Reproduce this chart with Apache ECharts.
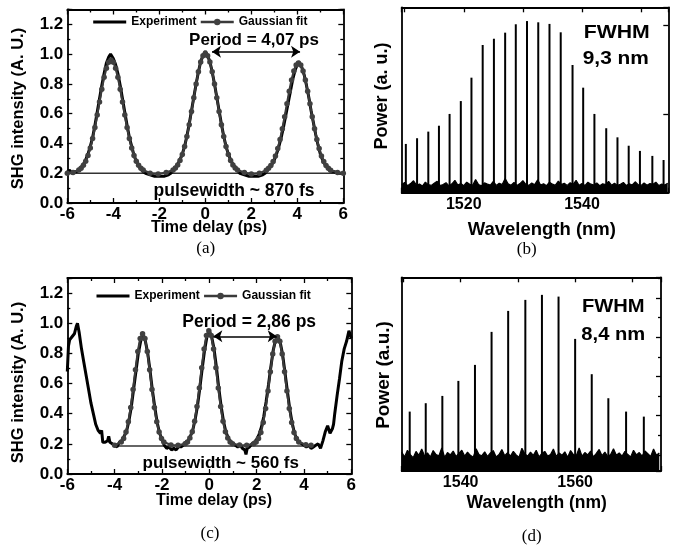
<!DOCTYPE html>
<html><head><meta charset="utf-8">
<script src="https://cdn.jsdelivr.net/npm/echarts/dist/echarts.min.js"></script>
<style>html,body{margin:0;padding:0;background:#fff}#c{width:674px;height:547px}</style>
</head><body><div id="c"></div>
<script>
// ---------- Panel (a): autocorrelation, period 4.07 ps ----------
const expA = [[-6.0,0.21],[-5.9,0.22],[-5.8,0.20],[-5.7,0.21],[-5.6,0.21],[-5.5,0.22],[-5.4,0.24],[-5.3,0.26],[-5.2,0.29],[-5.1,0.33],[-5.0,0.38],[-4.9,0.44],[-4.8,0.52],[-4.7,0.61],[-4.6,0.70],[-4.5,0.79],[-4.4,0.87],[-4.3,0.94],[-4.2,0.98],[-4.12,1.00],[-4.0,0.97],[-3.9,0.93],[-3.8,0.87],[-3.7,0.79],[-3.6,0.70],[-3.5,0.61],[-3.4,0.52],[-3.3,0.44],[-3.2,0.38],[-3.1,0.32],[-3.0,0.28],[-2.9,0.25],[-2.8,0.23],[-2.7,0.21],[-2.6,0.20],[-2.4,0.19],[-2.2,0.18],[-2.0,0.18],[-1.8,0.18],[-1.6,0.19],[-1.5,0.20],[-1.4,0.22],[-1.3,0.24],[-1.2,0.26],[-1.1,0.29],[-1.0,0.33],[-0.9,0.38],[-0.8,0.45],[-0.7,0.53],[-0.6,0.62],[-0.5,0.71],[-0.4,0.80],[-0.3,0.88],[-0.2,0.95],[-0.1,0.99],[0.0,1.02],[0.1,0.99],[0.2,0.95],[0.3,0.88],[0.4,0.80],[0.5,0.71],[0.6,0.62],[0.7,0.53],[0.8,0.45],[0.9,0.38],[1.0,0.33],[1.1,0.29],[1.2,0.26],[1.3,0.24],[1.4,0.22],[1.5,0.20],[1.7,0.19],[1.9,0.18],[2.1,0.18],[2.3,0.18],[2.5,0.19],[2.6,0.20],[2.7,0.22],[2.8,0.24],[2.9,0.26],[3.0,0.29],[3.1,0.33],[3.2,0.38],[3.3,0.44],[3.4,0.51],[3.5,0.59],[3.6,0.67],[3.7,0.75],[3.8,0.83],[3.9,0.89],[4.0,0.93],[4.05,0.95],[4.1,0.94],[4.2,0.91],[4.3,0.86],[4.4,0.79],[4.5,0.71],[4.6,0.62],[4.7,0.54],[4.8,0.46],[4.9,0.39],[5.0,0.33],[5.1,0.29],[5.2,0.26],[5.3,0.24],[5.4,0.22],[5.5,0.21],[5.6,0.21],[5.8,0.20],[6.0,0.20]];
const fitA = [[-6.0,0.200],[-5.75,0.205],[-5.5,0.221],[-5.4,0.233],[-5.3,0.253],[-5.2,0.281],[-5.1,0.319],[-5.0,0.370],[-4.9,0.433],[-4.8,0.507],[-4.7,0.591],[-4.6,0.679],[-4.5,0.765],[-4.4,0.844],[-4.3,0.906],[-4.2,0.946],[-4.1,0.960],[-4.0,0.946],[-3.9,0.906],[-3.8,0.844],[-3.7,0.765],[-3.6,0.679],[-3.5,0.591],[-3.4,0.507],[-3.3,0.433],[-3.2,0.370],[-3.1,0.319],[-3.0,0.281],[-2.9,0.253],[-2.8,0.233],[-2.7,0.221],[-2.4,0.200],[-2.05,0.195],[-1.7,0.205],[-1.4,0.222],[-1.3,0.235],[-1.2,0.256],[-1.1,0.286],[-1.0,0.326],[-0.9,0.380],[-0.8,0.446],[-0.7,0.525],[-0.6,0.614],[-0.5,0.707],[-0.4,0.799],[-0.3,0.882],[-0.2,0.948],[-0.1,0.990],[0.0,1.005],[0.1,0.990],[0.2,0.948],[0.3,0.882],[0.4,0.799],[0.5,0.707],[0.6,0.614],[0.7,0.525],[0.8,0.446],[0.9,0.380],[1.0,0.326],[1.1,0.286],[1.2,0.256],[1.3,0.235],[1.4,0.222],[1.7,0.205],[2.0,0.195],[2.35,0.200],[2.65,0.220],[2.75,0.233],[2.85,0.252],[2.95,0.279],[3.05,0.316],[3.15,0.366],[3.25,0.426],[3.35,0.499],[3.45,0.580],[3.55,0.666],[3.65,0.751],[3.75,0.827],[3.85,0.887],[3.95,0.927],[4.05,0.940],[4.15,0.927],[4.25,0.887],[4.35,0.827],[4.45,0.751],[4.55,0.666],[4.65,0.580],[4.75,0.499],[4.85,0.426],[4.95,0.366],[5.05,0.316],[5.15,0.279],[5.25,0.252],[5.35,0.233],[5.45,0.220],[5.75,0.205],[6.0,0.200]];
const baseA = [[-6,0.2],[6,0.2]];
const arrowA = [[0.29,1.016],[4.12,1.016]];

// ---------- Panel (b): spectrum, FWHM 9.3 nm ----------
const peakBWl  = [1510.2,1512.1,1514.0,1515.8,1517.6,1519.5,1521.3,1523.2,1525.1,1527.0,1528.8,1530.7,1532.6,1534.5,1536.4,1538.4,1540.2,1542.1,1544.1,1546.0,1547.9,1549.8,1551.9,1553.8];
const peakBPow = [0.334,0.366,0.403,0.436,0.502,0.574,0.705,0.888,0.923,0.957,1.004,1.022,1.015,1.006,0.959,0.776,0.649,0.502,0.422,0.371,0.324,0.295,0.267,0.244];
const noiseBStart = 1509.5, noiseBStep = 0.5;
const noiseB = [0.105,0.118,0.1,0.112,0.128,0.103,0.11,0.098,0.12,0.106,
0.102,0.114,0.125,0.101,0.107,0.117,0.099,0.111,0.13,0.104,
0.112,0.1,0.12,0.108,0.103,0.135,0.106,0.1,0.116,0.109,
0.104,0.124,0.102,0.114,0.107,0.14,0.111,0.103,0.118,0.101,
0.112,0.128,0.108,0.102,0.115,0.106,0.133,0.104,0.111,0.1,
0.12,0.109,0.103,0.126,0.107,0.114,0.102,0.117,0.108,0.13,
0.103,0.112,0.101,0.12,0.109,0.104,0.116,0.1,0.111,0.106,
0.124,0.103,0.114,0.102,0.108,0.118,0.101,0.111,0.104,0.122,
0.106,0.102,0.115,0.103,0.112,0.108,0.12,0.101,0.109,0.104,0.114];
const labelsB = [1520,1540];

// ---------- Panel (c): autocorrelation, period 2.86 ps ----------
const expC = [[-6.0,0.68],[-5.95,0.85],[-5.9,0.89],[-5.8,0.91],[-5.7,0.93],[-5.62,0.98],[-5.57,1.0],[-5.5,0.94],[-5.4,0.83],[-5.3,0.74],[-5.2,0.65],[-5.1,0.56],[-5.0,0.47],[-4.9,0.40],[-4.8,0.33],[-4.7,0.29],[-4.6,0.27],[-4.55,0.29],[-4.5,0.21],[-4.45,0.22],[-4.4,0.21],[-4.3,0.22],[-4.25,0.25],[-4.2,0.21],[-4.1,0.20],[-4.0,0.19],[-3.9,0.18],[-3.8,0.21],[-3.7,0.22],[-3.6,0.25],[-3.5,0.28],[-3.4,0.35],[-3.3,0.44],[-3.2,0.56],[-3.1,0.68],[-3.0,0.80],[-2.9,0.88],[-2.8,0.93],[-2.7,0.88],[-2.6,0.80],[-2.5,0.68],[-2.4,0.55],[-2.3,0.44],[-2.2,0.34],[-2.1,0.27],[-2.0,0.23],[-1.9,0.19],[-1.8,0.17],[-1.7,0.18],[-1.6,0.16],[-1.5,0.17],[-1.4,0.16],[-1.3,0.18],[-1.2,0.18],[-1.1,0.19],[-1.0,0.21],[-0.9,0.22],[-0.8,0.25],[-0.7,0.29],[-0.6,0.36],[-0.5,0.45],[-0.4,0.57],[-0.3,0.70],[-0.2,0.82],[-0.1,0.91],[0.0,0.95],[0.1,0.91],[0.2,0.83],[0.3,0.71],[0.4,0.57],[0.5,0.45],[0.6,0.35],[0.7,0.28],[0.8,0.24],[0.9,0.21],[1.0,0.20],[1.1,0.19],[1.2,0.18],[1.3,0.19],[1.4,0.17],[1.5,0.16],[1.55,0.13],[1.6,0.17],[1.7,0.18],[1.8,0.20],[1.9,0.21],[2.0,0.23],[2.1,0.26],[2.2,0.31],[2.3,0.38],[2.4,0.48],[2.5,0.59],[2.6,0.71],[2.7,0.82],[2.8,0.89],[2.9,0.91],[3.0,0.87],[3.1,0.79],[3.2,0.67],[3.3,0.55],[3.4,0.43],[3.5,0.34],[3.6,0.27],[3.7,0.23],[3.8,0.21],[3.9,0.20],[4.0,0.19],[4.1,0.18],[4.2,0.19],[4.3,0.17],[4.4,0.18],[4.5,0.19],[4.6,0.20],[4.7,0.17],[4.75,0.16],[4.8,0.22],[4.9,0.28],[5.0,0.32],[5.05,0.33],[5.1,0.27],[5.2,0.30],[5.25,0.33],[5.3,0.40],[5.4,0.52],[5.5,0.63],[5.6,0.75],[5.7,0.83],[5.8,0.88],[5.9,0.95],[6.0,0.90]];
const fitC = [[-4.0,0.190],[-3.72,0.212],[-3.62,0.236],[-3.52,0.279],[-3.42,0.346],[-3.32,0.441],[-3.22,0.561],[-3.12,0.692],[-3.02,0.812],[-2.92,0.899],[-2.82,0.930],[-2.72,0.899],[-2.62,0.812],[-2.52,0.692],[-2.42,0.561],[-2.32,0.441],[-2.22,0.346],[-2.12,0.279],[-2.02,0.236],[-1.92,0.212],[-1.62,0.192],[-1.32,0.190],[-1.02,0.200],[-0.92,0.213],[-0.82,0.238],[-0.72,0.281],[-0.62,0.350],[-0.52,0.448],[-0.42,0.571],[-0.32,0.705],[-0.22,0.829],[-0.12,0.918],[-0.02,0.950],[0.08,0.918],[0.18,0.829],[0.28,0.705],[0.38,0.571],[0.48,0.448],[0.58,0.350],[0.68,0.281],[0.78,0.238],[0.88,0.213],[0.98,0.200],[1.28,0.192],[1.58,0.190],[1.88,0.200],[1.98,0.212],[2.08,0.235],[2.18,0.276],[2.28,0.342],[2.38,0.434],[2.48,0.551],[2.58,0.678],[2.68,0.796],[2.78,0.880],[2.88,0.910],[2.98,0.880],[3.08,0.796],[3.18,0.678],[3.28,0.551],[3.38,0.434],[3.48,0.342],[3.58,0.276],[3.68,0.235],[3.78,0.212],[4.08,0.194],[4.3,0.190]];
const baseC = [[-4.06,0.186],[4.39,0.186]];
const arrowC = [[0.17,0.913],[2.85,0.913]];

// ---------- Panel (d): spectrum, FWHM 8.4 nm ----------
const peakDWl  = [1531.1,1533.9,1536.8,1539.6,1542.5,1545.4,1548.3,1551.3,1554.2,1557.1,1560.0,1562.9,1565.8,1568.9,1572.0];
const peakDPow = [2.105,2.319,2.505,2.888,3.296,4.138,4.673,4.954,5.082,5.038,3.959,3.059,2.446,2.105,1.977];
const noiseDStart = 1529.7, noiseDStep = 0.5;
const noiseD = [1.07,0.95,1.12,1.01,0.93,1.09,0.99,1.15,0.97,1.05,
0.95,1.11,1.01,0.98,1.18,0.94,1.06,1.0,1.1,0.96,
1.04,1.12,0.97,1.07,0.99,0.94,1.16,1.01,0.98,1.08,
0.96,1.05,1.11,0.95,1.01,1.14,0.98,1.06,0.97,1.09,
1.0,0.94,1.17,1.03,0.97,1.07,0.99,1.12,0.95,1.04,
1.09,0.97,1.01,1.15,0.96,1.05,0.99,1.08,0.94,1.11,
1.01,0.98,1.18,0.97,1.06,1.0,1.1,0.95,1.04,1.14,
0.98,1.07,0.96,1.01,1.16,0.99,1.05,0.97,1.09,1.01,
0.95,1.12,1.0,1.06,0.97,1.1,1.03,0.96,1.15,0.99,1.05];
const labelsD = [1540,1560];

// ---------- build ----------
const FONT = "'Liberation Sans', Arial, Helvetica, sans-serif";
const SERIF = "'Liberation Serif', 'Times New Roman', serif";
const LW = {color:'#000', width:1.3};
const lab = (extra) => Object.assign({show:true, fontFamily:FONT, fontWeight:'bold', fontSize:17, color:'#000'}, extra);
function ax(gi, pos, min, max, o) {
  return Object.assign({
    type:'value', gridIndex:gi, position:pos, min:min, max:max, scale:true,
    splitLine:{show:false},
    axisLine:{show:true, onZero:false, lineStyle:{color:'#000', width:1.8}},
    axisTick:{show:true, inside:true, length:5, lineStyle:LW},
    axisLabel:{show:false}
  }, o || {});
}
const minor = {show:true, splitNumber:2, length:3, lineStyle:LW};
const pick = (list) => (v) => { const t = list.find(t => Math.abs(t - v) < 1e-6); return t === undefined ? '' : String(t); };

const grids = [
  {left:67.3, top:9.5, width:276, height:193.5},
  {left:401.7, top:7.3, width:266.6, height:185.4},
  {left:67.3, top:278, width:284, height:196},
  {left:401.7, top:277.3, width:259.3, height:193.7}
];

const xAxis = [
  ax(0,'bottom',-6,6,{interval:2, minorTick:minor, axisLabel:lab({margin:3})}),
  ax(0,'top',-6,6,{interval:2, minorTick:minor}),
  ax(1,'bottom',1509.5,1554.6,{splitNumber:5, axisLabel:lab({margin:4, fontSize:16, formatter:pick(labelsB)})}),
  ax(1,'top',1509.5,1554.6,{splitNumber:5}),
  ax(2,'bottom',-6,6,{interval:2, minorTick:minor, axisLabel:lab({margin:3})}),
  ax(2,'top',-6,6,{interval:2, minorTick:minor}),
  ax(3,'bottom',1529.7,1575,{splitNumber:5, axisLabel:lab({margin:4, fontSize:16, formatter:pick(labelsD)})}),
  ax(3,'top',1529.7,1575,{splitNumber:5})
];
const yFmt = v => v.toFixed(1);
const yAxis = [
  ax(0,'left',0,1.3,{interval:0.2, minorTick:minor, axisLabel:lab({margin:4, formatter:yFmt, showMaxLabel:false})}),
  ax(0,'right',0,1.3,{interval:0.2, minorTick:minor}),
  ax(1,'left',0.061,1.099,{splitNumber:2, axisTick:{show:false}}),
  ax(1,'right',0.061,1.099,{splitNumber:2}),
  ax(2,'left',0,1.3,{interval:0.2, minorTick:minor, axisLabel:lab({margin:4, formatter:yFmt, showMaxLabel:false})}),
  ax(2,'right',0,1.3,{interval:0.2, minorTick:minor}),
  ax(3,'left',0.59,5.53,{splitNumber:5, axisTick:{show:false}}),
  ax(3,'right',0.59,5.53,{splitNumber:5, minorTick:minor})
];

const expStyle = {type:'line', symbol:'none', lineStyle:{color:'#000', width:3}, itemStyle:{color:'#000'}, z:2, silent:true};
const fitStyle = {type:'line', symbol:'circle', symbolSize:5.5, lineStyle:{color:'#3a3a3a', width:2.2}, itemStyle:{color:'#404040'}, z:3, silent:true};
const baseStyle = {type:'line', symbol:'none', lineStyle:{color:'#333', width:1.5}, z:1, silent:true};
const arrow = (pts) => ({silent:true, symbol:['arrow','arrow'], symbolSize:9, label:{show:false},
  lineStyle:{color:'#000', width:1.6, type:'solid'}, data:[[{coord:pts[0]},{coord:pts[1]}]]});

const pairs = (xs, ys) => xs.map((x,i) => [x, ys[i]]);
const noisePairs = (start, step, ys) => ys.map((y,i) => [+(start + i*step).toFixed(2), y]);

const series = [
  Object.assign({}, baseStyle, {name:'baseA', xAxisIndex:0, yAxisIndex:0, data:baseA}),
  Object.assign({}, expStyle, {name:'Experiment', xAxisIndex:0, yAxisIndex:0, data:expA}),
  Object.assign({}, fitStyle, {name:'Gaussian fit', xAxisIndex:0, yAxisIndex:0, data:fitA, markLine:arrow(arrowA)}),
  {type:'line', name:'noiseB', xAxisIndex:2, yAxisIndex:2, symbol:'none', silent:true,
   lineStyle:{color:'#000', width:1.2}, areaStyle:{color:'#000', opacity:1, origin:'start'}, data:noisePairs(noiseBStart, noiseBStep, noiseB), z:2},
  {type:'bar', name:'peaksB', xAxisIndex:2, yAxisIndex:2, barWidth:2, clip:true, silent:true,
   itemStyle:{color:'#000'}, data:pairs(peakBWl, peakBPow), z:3},
  Object.assign({}, baseStyle, {name:'baseC', xAxisIndex:4, yAxisIndex:4, data:baseC}),
  Object.assign({}, expStyle, {name:'Experiment', xAxisIndex:4, yAxisIndex:4, data:expC}),
  Object.assign({}, fitStyle, {name:'Gaussian fit', xAxisIndex:4, yAxisIndex:4, data:fitC, markLine:arrow(arrowC)}),
  {type:'line', name:'noiseD', xAxisIndex:6, yAxisIndex:6, symbol:'none', silent:true,
   lineStyle:{color:'#000', width:1.2}, areaStyle:{color:'#000', opacity:1, origin:'start'}, data:noisePairs(noiseDStart, noiseDStep, noiseD), z:2},
  {type:'bar', name:'peaksD', xAxisIndex:6, yAxisIndex:6, barWidth:2, clip:true, silent:true,
   itemStyle:{color:'#000'}, data:pairs(peakDWl, peakDPow), z:3}
];

const legendCommon = {orient:'horizontal', padding:0, itemWidth:33, itemHeight:8, itemGap:3, selectedMode:false,
  data:[{name:'Experiment', itemStyle:{opacity:0}, lineStyle:{width:3, color:'#000'}},
        {name:'Gaussian fit', lineStyle:{width:2.4, color:'#3a3a3a'}}],
  textStyle:{fontFamily:FONT, fontWeight:'bold', fontSize:12, color:'#000'}};
const legend = [
  Object.assign({left:91.7, top:16}, legendCommon),
  Object.assign({left:95, top:290}, legendCommon)
];

function txt(t, x, y, size, o) {
  o = o || {};
  return {type:'text', x:x, y:y, rotation:o.rot || 0, scaleX:o.sx || 1, silent:true, z:100,
    style:{text:t, fontFamily:o.serif ? SERIF : FONT, fontWeight:o.serif ? 'normal' : 'bold', fontSize:size,
      fill:'#000', align:'center', verticalAlign:'middle'}};
}
const R = Math.PI/2;
const graphic = [
  txt('SHG intensity (A. U.)', 18.5, 108.5, 16.5, {rot:R}),
  txt('Time delay (ps)', 209, 228, 16),
  txt('(a)', 205.7, 248.5, 17, {serif:true}),
  txt('Period = 4,07 ps', 254, 40, 17),
  txt('pulsewidth ~ 870 fs', 234, 191, 17.5),
  txt('Power (a. u.)', 381.7, 96, 18, {rot:R}),
  txt('Wavelength (nm)', 541.8, 230, 18.5),
  txt('(b)', 526.7, 250, 17, {serif:true}),
  txt('FWHM', 616.7, 33.3, 18, {sx:1.18}),
  txt('9,3 nm', 615.8, 59.3, 18, {sx:1.16}),
  txt('SHG intensity (A. U.)', 18.5, 382.5, 16.5, {rot:R}),
  txt('Time delay (ps)', 214, 501, 16),
  txt('(c)', 210, 533.5, 17, {serif:true}),
  txt('Period = 2,86 ps', 249.2, 321.7, 17.5),
  txt('pulsewidth ~ 560 fs', 220.8, 463.3, 17),
  txt('Power (a.u.)', 383.3, 375, 19, {rot:R}),
  txt('Wavelength (nm)', 536.7, 503.3, 17.5),
  txt('(d)', 531.7, 536.7, 17, {serif:true}),
  txt('FWHM', 613.3, 306.7, 18, {sx:1.12}),
  txt('8,4 nm', 613.3, 335, 18, {sx:1.12})
];

const chart = echarts.init(document.getElementById('c'), null, {renderer:'canvas'});
chart.setOption({
  animation:false, backgroundColor:'#fff',
  textStyle:{fontFamily:FONT},
  grid:grids, xAxis:xAxis, yAxis:yAxis, legend:legend, series:series, graphic:graphic
});
</script>
</body></html>
